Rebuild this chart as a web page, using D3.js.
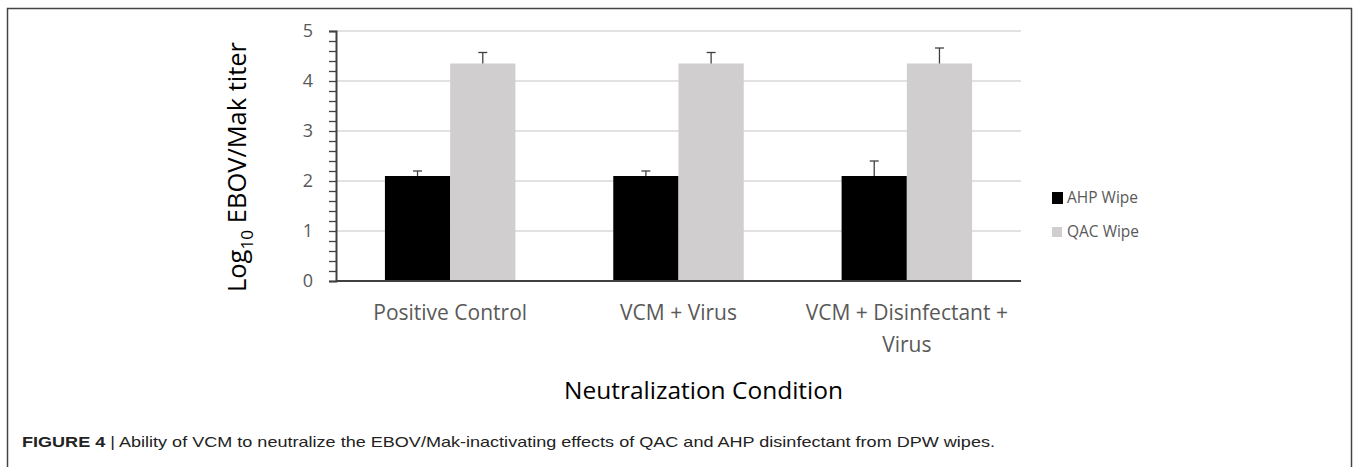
<!DOCTYPE html>
<html>
<head>
<meta charset="utf-8">
<script src="https://cdn.jsdelivr.net/npm/d3@7"></script>
<style>
  body { margin: 0; background: #fff; }
  svg text { font-family: "Open Sans", sans-serif; }
</style>
</head>
<body>
<div id="chart"></div>
<script>
const categories = [["Positive Control"], ["VCM + Virus"], ["VCM + Disinfectant +", "Virus"]];
const seriesNames = ["AHP Wipe", "QAC Wipe"];
const ahpValues = [2.1, 2.1, 2.1];
const ahpErrors = [0.1, 0.1, 0.3];
const qacValues = [4.35, 4.35, 4.35];
const qacErrors = [0.22, 0.22, 0.31];
const yTicks = [0, 1, 2, 3, 4, 5];
const colors = ["#000000", "#d0cece"];

const W = 1357, H = 467;
const margin = { top: 31, left: 336 };
const plotW = 1021 - 336;
const plotH = 281 - 31;

const svg = d3.select("#chart").append("svg")
  .attr("width", W)
  .attr("height", H);

// frame around figure
svg.append("path")
  .attr("d", `M7.5,470 V8.5 H1351.5 V470`)
  .attr("fill", "none")
  .attr("stroke", "#444")
  .attr("stroke-width", 1.5);

const g = svg.append("g").attr("transform", `translate(${margin.left},${margin.top})`);

const catKeys = categories.map((c, i) => i);
const x0 = d3.scaleBand().domain(catKeys).range([0, plotW]).padding(0);
// gap width 150% -> the two bars take 2/3.5 of a category
const groupW = x0.bandwidth() * 2 / 3.5;
const x1 = d3.scaleBand().domain([0, 1]).range([0, groupW]).padding(0);
const y = d3.scaleLinear().domain([0, 5]).range([plotH, 0]);

// gridlines
g.append("g")
  .selectAll("line")
  .data(yTicks.filter(d => d > 0))
  .join("line")
  .attr("x1", 0).attr("x2", plotW)
  .attr("y1", d => y(d)).attr("y2", d => y(d))
  .attr("stroke", "#d9d9d9")
  .attr("stroke-width", 1.5);

const series = [
  { values: ahpValues, errors: ahpErrors },
  { values: qacValues, errors: qacErrors }
];

series.forEach((s, si) => {
  const grp = g.append("g");
  const bx = i => x0(i) + (x0.bandwidth() - groupW) / 2 + x1(si);
  grp.selectAll("rect")
    .data(s.values)
    .join("rect")
    .attr("x", (d, i) => bx(i))
    .attr("y", d => y(d))
    .attr("width", x1.bandwidth())
    .attr("height", d => y(0) - y(d))
    .attr("fill", colors[si]);

  // error bars (plus side only)
  const eb = grp.selectAll("g.err")
    .data(s.values.map((v, i) => ({ v, e: s.errors[i], i })))
    .join("g")
    .attr("class", "err");
  const cx = d => bx(d.i) + x1.bandwidth() / 2;
  eb.append("line")
    .attr("x1", cx).attr("x2", cx)
    .attr("y1", d => y(d.v)).attr("y2", d => y(d.v + d.e))
    .attr("stroke", "#404040").attr("stroke-width", 1.3);
  eb.append("line")
    .attr("x1", d => cx(d) - 4.5).attr("x2", d => cx(d) + 4.5)
    .attr("y1", d => y(d.v + d.e)).attr("y2", d => y(d.v + d.e))
    .attr("stroke", "#404040").attr("stroke-width", 1.3);
});

// y axis with minor ticks every 0.2
const yAxis = d3.axisLeft(y).tickValues(d3.range(0, 5.01, 0.2)).tickSize(7).tickFormat("");
const ya = g.append("g").call(yAxis);
ya.select(".domain").attr("stroke", "#404040").attr("stroke-width", 2);
ya.selectAll(".tick line").attr("stroke", "#404040").attr("stroke-width", 1.3);

g.append("g")
  .selectAll("text")
  .data(yTicks)
  .join("text")
  .attr("x", -23)
  .attr("y", d => y(d))
  .attr("dy", "0.35em")
  .attr("text-anchor", "end")
  .attr("fill", "#595959")
  .style("font-size", "18px")
  .text(d => d);

// x axis line
g.append("line")
  .attr("x1", 0).attr("x2", plotW)
  .attr("y1", plotH).attr("y2", plotH)
  .attr("stroke", "#404040")
  .attr("stroke-width", 2);

// category labels
const xl = g.append("g")
  .selectAll("text")
  .data(categories)
  .join("text")
  .attr("text-anchor", "middle")
  .attr("fill", "#595959")
  .style("font-size", "21px")
  .attr("transform", (d, i) => `translate(${x0(i) + x0.bandwidth() / 2},${320 - margin.top})`);
xl.selectAll("tspan")
  .data(d => d)
  .join("tspan")
  .attr("x", 0)
  .attr("dy", (d, i) => i === 0 ? 0 : 32)
  .text(d => d);

// axis titles
svg.append("text")
  .attr("transform", `translate(246,167) rotate(-90)`)
  .attr("text-anchor", "middle")
  .attr("fill", "#000")
  .attr("textLength", 250)
  .attr("lengthAdjust", "spacingAndGlyphs")
  .style("font-size", "25px")
  .call(t => {
    t.append("tspan").text("Log");
    t.append("tspan").attr("dy", 7).style("font-size", "17px").text("10");
    t.append("tspan").attr("dy", -7).text(" EBOV/Mak titer");
  });

svg.append("text")
  .attr("x", 703.5)
  .attr("y", 399)
  .attr("text-anchor", "middle")
  .attr("fill", "#000")
  .attr("textLength", 279)
  .attr("lengthAdjust", "spacingAndGlyphs")
  .style("font-size", "23px")
  .text("Neutralization Condition");

// legend
const legend = svg.append("g").attr("transform", "translate(1052,192)");
seriesNames.forEach((name, i) => {
  const row = legend.append("g").attr("transform", `translate(0,${i * 34})`);
  row.append("rect")
    .attr("width", i === 0 ? 11 : 10)
    .attr("height", i === 0 ? 12 : 10)
    .attr("y", i === 0 ? 0 : 1)
    .attr("fill", colors[i]);
  row.append("text")
    .attr("x", 15)
    .attr("y", 11)
    .attr("fill", "#595959")
    .style("font-size", "15.5px")
    .text(name);
});

// caption
const capFont = "'Liberation Sans', Arial, sans-serif";
const cap = svg.append("text")
  .attr("x", 22)
  .attr("y", 447)
  .attr("fill", "#222")
  .attr("textLength", 973)
  .attr("lengthAdjust", "spacingAndGlyphs")
  .style("font-family", capFont)
  .style("font-size", "15px");
cap.append("tspan").style("font-weight", "bold").style("font-family", capFont).text("FIGURE 4");
cap.append("tspan").style("font-family", capFont).text(" | Ability of VCM to neutralize the EBOV/Mak-inactivating effects of QAC and AHP disinfectant from DPW wipes.");
</script>
</body>
</html>
